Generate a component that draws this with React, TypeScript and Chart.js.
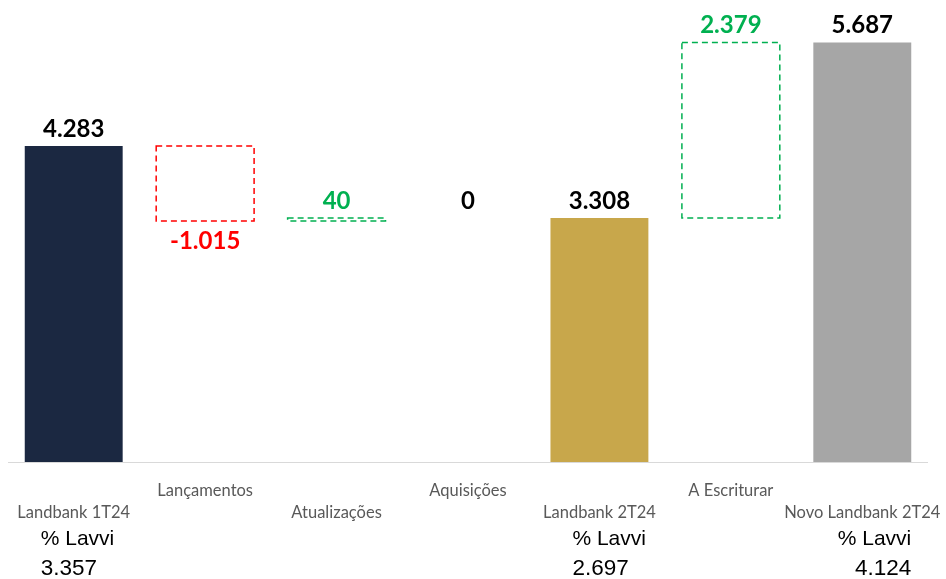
import React, { useEffect, useRef } from "react";
import { Chart, registerables } from "chart.js";

Chart.register(...registerables);

const categories = [
  "Landbank 1T24",
  "Lançamentos",
  "Atualizações",
  "Aquisições",
  "Landbank 2T24",
  "A Escriturar",
  "Novo Landbank 2T24",
];
const starts = [0, 3268, 3268, 3308, 0, 3308, 0];
const ends = [4283, 4283, 3308, 3308, 3308, 5687, 5687];
const deltas = [4283, -1015, 40, 0, 3308, 2379, 5687];
const kinds = ["total", "down", "up", "none", "total", "up", "total"];
const fillColors = ["#1b2841", "", "", "", "#c8a74b", "", "#a6a6a6"];
const lavviLabel = "% Lavvi";
const lavviValues = ["3.357", "", "", "", "2.697", "", "4.124"];

const GREEN = "#00b050";
const RED = "#ff0000";

function fmt(v: number): string {
  const s = Math.abs(v).toString().replace(/\B(?=(\d{3})+(?!\d))/g, ".");
  return (v < 0 ? "-" : "") + s;
}

const overlay = {
  id: "waterfallOverlay",
  afterDatasetsDraw(chart: any) {
    const ctx = chart.ctx;
    const meta = chart.getDatasetMeta(0);
    const area = chart.chartArea;
    ctx.save();
    // baseline
    ctx.strokeStyle = "#d9d9d9";
    ctx.lineWidth = 1;
    ctx.beginPath();
    ctx.moveTo(area.left, Math.round(area.bottom) + 0.5);
    ctx.lineTo(area.right, Math.round(area.bottom) + 0.5);
    ctx.stroke();

    meta.data.forEach((el: any, i: number) => {
      const p = el.getProps(["x", "y", "base", "width"], true);
      const top = Math.min(p.y, p.base);
      const bottom = Math.max(p.y, p.base);
      const left = p.x - p.width / 2;
      const kind = kinds[i];
      if (kind === "up" || kind === "down") {
        ctx.strokeStyle = kind === "up" ? GREEN : RED;
        ctx.lineWidth = 1.5;
        ctx.setLineDash([6, 4]);
        ctx.strokeRect(left, top, p.width, Math.max(bottom - top, 2));
        ctx.setLineDash([]);
      }
      // value label
      ctx.font = "bold 24px Lato";
      ctx.textAlign = "center";
      ctx.textBaseline = "middle";
      ctx.fillStyle = kind === "up" ? GREEN : kind === "down" ? RED : "#000000";
      const ly = kind === "down" ? bottom + 20 : top - 17;
      ctx.fillText(fmt(deltas[i]), p.x, ly);

      // category label (staggered)
      ctx.font = "16.5px Lato";
      ctx.fillStyle = "#595959";
      const cy = i % 2 === 1 ? area.bottom + 29 : area.bottom + 51;
      ctx.fillText(categories[i], p.x, cy);

      // % Lavvi
      if (lavviValues[i]) {
        ctx.font = "21px 'Liberation Sans'";
        ctx.fillStyle = "#000000";
        const lw = ctx.measureText(lavviLabel).width;
        let lx: number;
        if (i === 0) lx = p.x - 33;
        else if (i === 4) lx = p.x - 27;
        else lx = p.x + 49 - lw;
        ctx.textAlign = "left";
        ctx.fillText(lavviLabel, lx, area.bottom + 77);
        ctx.font = "22.5px 'Liberation Sans'";
        if (i === 6) {
          ctx.textAlign = "right";
          ctx.fillText(lavviValues[i], lx + lw, area.bottom + 107);
        } else {
          ctx.fillText(lavviValues[i], lx, area.bottom + 107);
        }
      }
    });
    ctx.restore();
  },
};

export default function App() {
  const ref = useRef<HTMLCanvasElement | null>(null);
  useEffect(() => {
    document.body.style.margin = "0";
    const c = ref.current;
    if (!c) return;
    const chart = new Chart(c, {
      type: "bar",
      data: {
        labels: categories,
        datasets: [
          {
            data: starts.map((s, i) => [s, ends[i]]) as any,
            backgroundColor: fillColors.map((f) => f || "rgba(0,0,0,0)"),
            borderWidth: 0,
            barPercentage: 1,
            categoryPercentage: 0.745,
          },
        ],
      },
      options: {
        animation: false,
        responsive: false,
        maintainAspectRatio: false,
        layout: { padding: { left: 8, right: 18, top: 0, bottom: 117 } },
        plugins: { legend: { display: false }, tooltip: { enabled: false } },
        scales: {
          x: { display: false },
          y: { display: false, min: 0, max: 6262 },
        },
      },
      plugins: [overlay],
    });
    return () => chart.destroy();
  }, []);
  return (
    <div style={{ width: 946, height: 579, background: "#fff" }}>
      <canvas ref={ref} width={946} height={579} style={{ display: "block" }} />
    </div>
  );
}
